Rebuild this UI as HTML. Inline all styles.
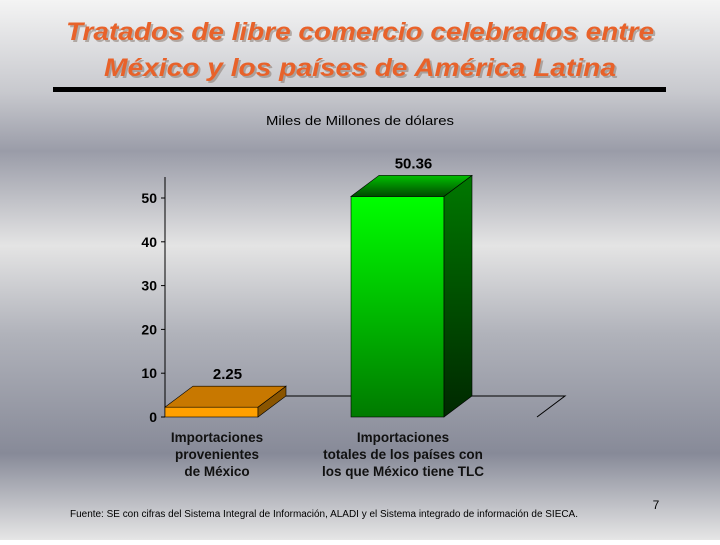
<!DOCTYPE html>
<html><head><meta charset="utf-8"><style>
html,body{margin:0;padding:0;}
body{width:720px;height:540px;overflow:hidden;font-family:"Liberation Sans",sans-serif;}
</style></head><body>
<svg id="chart" width="720" height="540" viewBox="0 0 720 540" xmlns="http://www.w3.org/2000/svg">
<defs>
<linearGradient id="bg" x1="0" y1="0" x2="0" y2="1">
<stop offset="0" stop-color="#f4f4f4"/><stop offset="0.17" stop-color="#c8c9ce"/>
<stop offset="0.28" stop-color="#9a9ca8"/><stop offset="0.455" stop-color="#e4e4e4"/>
<stop offset="0.62" stop-color="#b0b2ba"/><stop offset="0.84" stop-color="#878a98"/>
<stop offset="1" stop-color="#e6e6e6"/></linearGradient>
<linearGradient id="gFront" x1="0" y1="0" x2="0" y2="1"><stop offset="0" stop-color="#00ff00"/><stop offset="1" stop-color="#007a00"/></linearGradient>
<linearGradient id="gSide" x1="0" y1="0" x2="0" y2="1"><stop offset="0" stop-color="#007800"/><stop offset="1" stop-color="#002800"/></linearGradient>
<linearGradient id="gTop" x1="0" y1="1" x2="0" y2="0"><stop offset="0" stop-color="#004a00"/><stop offset="1" stop-color="#00c000"/></linearGradient>
</defs>
<rect width="720" height="540" fill="url(#bg)"/>
<g font-style="italic" font-weight="bold" font-size="25" text-anchor="middle" fill="#e8622a">
<text x="362" y="42" fill="#8a7a70" opacity="0.55" textLength="588" lengthAdjust="spacingAndGlyphs">Tratados de libre comercio celebrados entre</text>
<text x="360" y="40" textLength="588" lengthAdjust="spacingAndGlyphs">Tratados de libre comercio celebrados entre</text>
<text x="362" y="78" fill="#8a7a70" opacity="0.55" textLength="512" lengthAdjust="spacingAndGlyphs">México y los países de América Latina</text>
<text x="360" y="76" textLength="512" lengthAdjust="spacingAndGlyphs">México y los países de América Latina</text>
</g>
<rect x="53" y="87" width="613" height="5" fill="#000"/>
<text x="360" y="125" font-size="13" text-anchor="middle" fill="#000" textLength="188" lengthAdjust="spacingAndGlyphs">Miles de Millones de dólares</text>
<g id="plot"></g>
<g font-size="13.5" font-weight="bold" text-anchor="middle" fill="#111">
<text x="217" y="442">Importaciones</text><text x="217" y="459">provenientes</text><text x="217" y="476">de México</text>
<text x="403" y="442">Importaciones</text><text x="403" y="459">totales de los países con</text><text x="403" y="476">los que México tiene TLC</text>
</g>
<text x="70" y="517" font-size="10" fill="#000" textLength="508" lengthAdjust="spacingAndGlyphs">Fuente: SE con cifras del Sistema Integral de Información, ALADI y el Sistema integrado de información de SIECA.</text>
<text x="656" y="509" font-size="12" text-anchor="middle" fill="#000">7</text>
</svg>
<script>
const categories = ["Importaciones provenientes de México", "Importaciones totales de los países con los que México tiene TLC"];
const values = [2.25, 50.36];
const valueLabels = ["2.25", "50.36"];
const ticks = [0, 10, 20, 30, 40, 50];
const NS = "http://www.w3.org/2000/svg";
const g = document.getElementById('plot');
const x0 = 165, y0 = 417, pxPer = 4.38, dx = 28, dy = -21;
const y = v => y0 - v * pxPer;
const slotW = 186, barW = 93;
const xb = i => x0 + i * slotW;
function mk(tag, attrs, parent) { const e = document.createElementNS(NS, tag); for (const k in attrs) e.setAttribute(k, attrs[k]); (parent || g).appendChild(e); return e; }
const ax = mk('line', {x1: x0, y1: y0, x2: x0, y2: 177, stroke: '#000', 'stroke-width': 1});


const floor = mk('polyline', {points: `${x0+dx},${y0+dy} 565,${y0+dy} 537,${y0}`, fill: 'none', stroke: '#000', 'stroke-width': 1});


ticks.forEach(t => {
  const tl = mk('line', {x1: x0 - 4, x2: x0, y1: y(t), y2: y(t), stroke: '#000'});
  
  
  const tx = mk('text', {x: x0 - 8, y: y(t) + 5, 'font-size': 14, 'font-weight': 'bold', 'text-anchor': 'end', fill: '#000'});
  tx.textContent = t;
  
  
});
const fills = [{front: '#ffa000', side: '#8a5500', top: '#c87800'}, {front: 'url(#gFront)', side: 'url(#gSide)', top: 'url(#gTop)'}];
values.forEach((v, i) => {
  const bx = xb(i), by = y(v), c = fills[i];
  const bg = mk('g', {});
  
  
  mk('rect', {x: bx, y: by, width: barW, height: y0 - by, fill: c.front, stroke: '#000', 'stroke-width': 0.6}, bg);
  mk('polygon', {points: `${bx+barW},${by} ${bx+barW+dx},${by+dy} ${bx+barW+dx},${y0+dy} ${bx+barW},${y0}`, fill: c.side, stroke: '#000', 'stroke-width': 0.6}, bg);
  mk('polygon', {points: `${bx},${by} ${bx+dx},${by+dy} ${bx+barW+dx},${by+dy} ${bx+barW},${by}`, fill: c.top, stroke: '#000', 'stroke-width': 0.6}, bg);
  const lb = mk('text', {x: bx + barW / 2 + dx / 2 + 2, y: by + dy - 7, 'font-size': 15, 'font-weight': 'bold', 'text-anchor': 'middle', fill: '#000'});
  lb.textContent = valueLabels[i];
  
  
});
</script>
</body></html>
